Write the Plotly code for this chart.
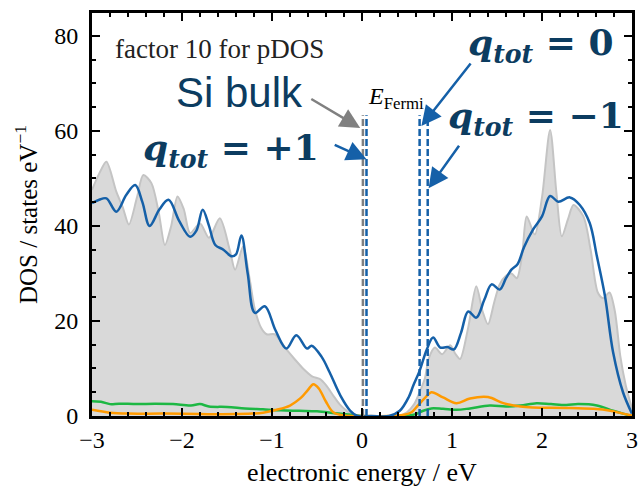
import plotly.graph_objects as go

# ---------------- data ----------------
bulk_x = [-3.0, -2.92, -2.84, -2.73, -2.66, -2.59, -2.5, -2.43, -2.34, -2.26, -2.19, -2.12, -2.05,
          -1.98, -1.91, -1.80, -1.70, -1.58, -1.47, -1.41, -1.32, -1.25, -1.19, -1.12, -1.06, -0.97,
          -0.84, -0.75, -0.65, -0.55, -0.47, -0.40, -0.32, -0.25, -0.17, -0.10, 0.0,
          0.40, 0.50, 0.58, 0.64, 0.70, 0.74, 0.81, 0.89, 0.98, 1.04, 1.09, 1.18, 1.27, 1.34, 1.40,
          1.47, 1.53, 1.60, 1.66, 1.72, 1.78, 1.83, 1.92, 2.0, 2.09, 2.16, 2.22, 2.29, 2.35, 2.46,
          2.54, 2.62, 2.68, 2.75, 2.81, 2.87, 2.93, 2.98, 3.0]
bulk_y = [47.6, 51.0, 53.5, 47.2, 44.0, 40.3, 46.0, 50.7, 49.0, 43.0, 36.0, 40.0, 46.2,
          43.5, 38.5, 40.5, 37.5, 41.6, 35.0, 30.8, 35.7, 29.0, 22.4, 18.5, 17.2, 17.2,
          14.0, 12.0, 9.9, 8.3, 7.8, 6.5, 4.3, 2.5, 1.1, 0.2, 0.0,
          0.0, 0.8, 2.5, 5.0, 8.0, 12.0, 14.4, 13.0, 14.9, 13.0, 12.0, 18.6, 27.3, 22.0, 19.3,
          24.0, 27.7, 29.5, 30.0, 29.0, 34.0, 42.0, 38.2, 46.0, 60.2, 47.0, 37.8, 41.5, 44.4, 42.0,
          35.0, 26.0, 24.8, 26.0, 22.0, 12.6, 6.5, 2.9, 1.5]

dos_x = [-3.0, -2.92, -2.84, -2.73, -2.62, -2.52, -2.44, -2.36, -2.25, -2.15, -2.03, -1.91, -1.84,
         -1.77, -1.70, -1.63, -1.54, -1.45, -1.40, -1.34, -1.27, -1.19, -1.08, -0.96, -0.84, -0.73,
         -0.61, -0.56, -0.45, -0.36, -0.24, -0.13, -0.05, 0.10, 0.30,
         0.42, 0.52, 0.57, 0.64, 0.72, 0.79, 0.87, 0.95, 1.02, 1.10, 1.18, 1.27, 1.36, 1.44, 1.53,
         1.60, 1.66, 1.73, 1.80, 1.90, 2.00, 2.09, 2.18, 2.31, 2.42, 2.53, 2.61, 2.70, 2.79, 2.90, 3.0]
dos_y = [44.8, 45.5, 45.8, 43.0, 46.5, 48.6, 45.0, 40.0, 43.5, 45.5, 41.0, 37.7, 39.0,
         43.4, 40.0, 36.0, 35.0, 33.6, 34.0, 38.0, 30.0, 21.7, 23.1, 18.0, 14.2, 17.0,
         14.2, 14.8, 12.5, 9.2, 4.3, 1.1, 0.0, 0.0, 0.0,
         1.1, 4.0, 6.4, 9.5, 14.0, 16.5, 14.4, 14.5, 14.0, 17.5, 22.0, 20.7, 24.5, 27.7, 26.6,
         29.0, 30.8, 32.0, 35.5, 39.2, 42.0, 46.3, 45.1, 46.0, 44.4, 40.6, 33.6, 25.2, 13.4, 5.0, 0.5]

pdos_a_x = [-3.0, -2.8, -2.6, -2.2, -1.8, -1.4, -1.1, -0.95, -0.8, -0.68, -0.6, -0.54, -0.48, -0.4,
            -0.32, -0.2, 0.0, 0.3, 0.45, 0.55, 0.62, 0.70, 0.77, 0.90, 1.05, 1.20, 1.40, 1.57, 1.76,
            1.9, 2.27, 2.57, 2.76, 2.9, 3.0]
pdos_a_y = [1.3, 0.7, 0.5, 0.5, 0.4, 0.4, 0.7, 1.3, 2.2, 3.8, 5.5, 6.7, 5.8, 3.0,
            0.8, 0.1, 0.0, 0.0, 0.2, 0.8, 2.2, 3.8, 5.0, 3.9, 2.7, 3.7, 4.0, 2.7, 2.0,
            1.8, 1.7, 1.5, 1.1, 0.5, 0.1]

pdos_b_x = [-3.0, -2.9, -2.8, -2.7, -2.5, -2.3, -2.1, -1.9, -1.8, -1.7, -1.5, -1.3, -1.1, -0.9,
            -0.7, -0.5, -0.3, -0.1, 0.0, 0.45, 0.6, 0.68, 0.77, 0.9, 1.05, 1.2, 1.42, 1.6, 1.76,
            1.94, 2.1, 2.27, 2.4, 2.61, 2.79, 2.9, 3.0]
pdos_b_y = [3.1, 3.0, 2.5, 2.6, 2.5, 2.6, 2.5, 2.2, 2.5, 2.0, 1.9, 1.6, 1.4, 1.2,
            1.1, 1.0, 0.6, 0.2, 0.0, 0.0, 0.4, 1.1, 1.6, 1.5, 1.3, 1.6, 2.2, 2.0, 2.2,
            2.7, 2.5, 2.3, 2.5, 2.2, 1.1, 0.5, 0.0]

fermi_levels = [0.01, 0.05, 0.64, 0.73]
fermi_colors = ["#808080", "#1560a8", "#1560a8", "#1560a8"]
fermi_top = 63.3

x_ticks = [-3, -2, -1, 0, 1, 2, 3]
y_ticks = [0, 20, 40, 60, 80]

NAVY = "#0c3c60"
BLUE = "#1560a8"

fig = go.Figure()
fig.add_trace(go.Scatter(x=bulk_x, y=bulk_y, mode="lines", fill="tozeroy",
                         fillcolor="#d9d9d9", line=dict(color="#c4c4c4", width=2, shape="spline",
                                                        smoothing=0.8),
                         showlegend=False))
fig.add_trace(go.Scatter(x=pdos_b_x, y=pdos_b_y, mode="lines",
                         line=dict(color="#1db844", width=2.5, shape="spline"), showlegend=False))
fig.add_trace(go.Scatter(x=pdos_a_x, y=pdos_a_y, mode="lines",
                         line=dict(color="#ff9a00", width=2.5, shape="spline"), showlegend=False))
fig.add_trace(go.Scatter(x=dos_x, y=dos_y, mode="lines",
                         line=dict(color=BLUE, width=2.5, shape="spline"), showlegend=False))
for xf, cf in zip(fermi_levels, fermi_colors):
    fig.add_trace(go.Scatter(x=[xf, xf], y=[0, fermi_top], mode="lines",
                             line=dict(color=cf, width=2.5, dash="7px,3px"), showlegend=False))

serif = "Liberation Serif"
qfont = "DejaVu Serif"
ann = []
ann.append(dict(x=-1.58, y=77.2, text="factor 10 for pDOS", showarrow=False,
                font=dict(family=serif, size=27, color="#222")))
ann.append(dict(x=-1.36, y=68, text="Si bulk", showarrow=False,
                font=dict(family="Liberation Sans", size=42, color=NAVY)))
ann.append(dict(x=-1.46, y=56, text="<b><i>q</i><sub><i>tot</i></sub> = +1</b>", showarrow=False,
                font=dict(family=qfont, size=36, color=NAVY)))
ann.append(dict(x=1.99, y=78, text="<b><i>q</i><sub><i>tot</i></sub> = 0</b>", showarrow=False,
                font=dict(family=qfont, size=36, color=NAVY)))
ann.append(dict(x=1.93, y=62.7, text="<b><i>q</i><sub><i>tot</i></sub> = −1</b>", showarrow=False,
                font=dict(family=qfont, size=36, color=NAVY)))
ann.append(dict(x=0.38, y=67, text="<i>E</i><sub>Fermi</sub>", showarrow=False,
                font=dict(family=serif, size=24, color="black")))
arrows = [((-0.02, 60.6), (-0.58, 66.9), "#808080"),
          ((0.05, 54.0), (-0.32, 57.2), BLUE),
          ((0.66, 61.0), (1.22, 74.5), BLUE),
          ((0.74, 47.9), (1.09, 57.2), BLUE)]
for (tx, ty), (sx, sy), c in arrows:
    ann.append(dict(x=tx, y=ty, ax=sx, ay=sy, axref="x", ayref="y", text="", showarrow=True,
                    arrowhead=2, arrowsize=1.6, arrowwidth=2.5, arrowcolor=c, standoff=0))

fig.update_layout(
    width=642, height=487, margin=dict(l=92, r=10, t=13, b=71),
    paper_bgcolor="white", plot_bgcolor="white",
    font=dict(family=serif, size=24, color="black"),
    annotations=ann,
    xaxis=dict(range=[-3, 3], tickvals=x_ticks, showgrid=False, zeroline=False, automargin=False,
               showline=True, linewidth=3, linecolor="black", mirror="allticks",
               ticks="inside", ticklen=8, tickwidth=2, tickcolor="black",
               minor=dict(dtick=0.2, ticks="inside", ticklen=4, tickwidth=1.5, tickcolor="black"),
               title=dict(text="electronic energy / eV", font=dict(size=26), standoff=12)),
    yaxis=dict(range=[0, 84.8], tickvals=y_ticks, showgrid=False, zeroline=False, automargin=False,
               showline=True, linewidth=3, linecolor="black", mirror="allticks",
               ticks="inside", ticklen=8, tickwidth=2, tickcolor="black",
               minor=dict(dtick=5, ticks="inside", ticklen=4, tickwidth=1.5, tickcolor="black"),
               ticklabelstandoff=6,
               title=dict(text="DOS / states eV<sup>−1</sup>", font=dict(size=25), standoff=10)),
)
fig.write_html("out.html")
